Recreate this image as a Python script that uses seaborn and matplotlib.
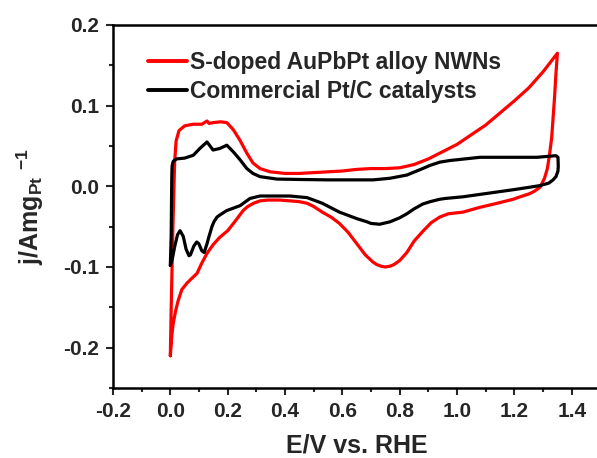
import numpy as np
import pandas as pd
import matplotlib
matplotlib.use("Agg")
import matplotlib.pyplot as plt
from matplotlib.ticker import MultipleLocator, FormatStrFormatter
import seaborn as sns

# ---- data ----
labels = ["S-doped AuPbPt alloy NWNs", "Commercial Pt/C catalysts"]

red_E = [0.000, 0.003, 0.006, 0.009, 0.012, 0.015, 0.020, 0.030, 0.050, 0.080, 0.110, 0.128, 0.135,
         0.150, 0.175, 0.197, 0.220, 0.243, 0.267, 0.288, 0.313, 0.348, 0.400, 0.450, 0.500, 0.550,
         0.600, 0.650, 0.700, 0.750, 0.800, 0.850, 0.900, 0.950, 1.000, 1.050, 1.100, 1.150, 1.200,
         1.250, 1.300, 1.350,
         1.345, 1.340, 1.335, 1.330, 1.322, 1.315, 1.305, 1.290, 1.270, 1.254, 1.220, 1.196, 1.140,
         1.080, 1.020, 0.970, 0.940, 0.910, 0.880, 0.850, 0.825, 0.800, 0.780, 0.766, 0.750, 0.735,
         0.720, 0.707, 0.680, 0.650, 0.620, 0.590, 0.560, 0.530, 0.500, 0.477, 0.450, 0.417, 0.380,
         0.340, 0.313, 0.290, 0.270, 0.254, 0.235, 0.220, 0.200, 0.173, 0.150, 0.128, 0.110, 0.093,
         0.075, 0.058, 0.040, 0.027, 0.018, 0.010, 0.005, 0.000]
red_j = [-0.210, -0.150, -0.100, -0.050, -0.010, 0.030, 0.056, 0.069, 0.075, 0.077, 0.077, 0.081, 0.078,
         0.079, 0.080, 0.079, 0.070, 0.057, 0.041, 0.029, 0.022, 0.018, 0.016, 0.016, 0.017, 0.018,
         0.019, 0.021, 0.022, 0.022, 0.023, 0.027, 0.034, 0.043, 0.052, 0.064, 0.076, 0.091, 0.106,
         0.122, 0.142, 0.165,
         0.140, 0.110, 0.085, 0.060, 0.038, 0.022, 0.010, -0.001, -0.006, -0.009, -0.013, -0.016, -0.021,
         -0.026, -0.032, -0.034, -0.038, -0.045, -0.056, -0.068, -0.082, -0.092, -0.097, -0.099, -0.100, -0.099,
         -0.097, -0.094, -0.085, -0.071, -0.057, -0.046, -0.038, -0.032, -0.025, -0.021, -0.019, -0.018, -0.017,
         -0.017, -0.018, -0.021, -0.025, -0.030, -0.039, -0.046, -0.055, -0.063, -0.072, -0.083, -0.095, -0.108,
         -0.114, -0.120, -0.128, -0.142, -0.155, -0.170, -0.185, -0.210]

black_E = [0.000, 0.003, 0.004, 0.005, 0.006, 0.010, 0.022, 0.050, 0.080, 0.103, 0.128, 0.149, 0.173,
           0.197, 0.219, 0.243, 0.267, 0.288, 0.313, 0.372, 0.450, 0.550, 0.650, 0.707, 0.766, 0.825,
           0.880, 0.906, 0.940, 0.975, 1.080, 1.195, 1.279, 1.345, 1.352, 1.353, 1.352, 1.345,
           1.335, 1.320, 1.290, 1.255, 1.200, 1.140, 1.080, 1.020, 0.960, 0.940, 0.906, 0.880, 0.850,
           0.825, 0.800, 0.766, 0.730, 0.700, 0.686, 0.650, 0.590, 0.530, 0.477, 0.417, 0.350, 0.313,
           0.278, 0.243, 0.220, 0.197, 0.175, 0.163, 0.152, 0.145, 0.135, 0.128, 0.118, 0.110, 0.099,
           0.092, 0.082, 0.070, 0.065, 0.055, 0.045, 0.034, 0.025, 0.015, 0.008, 0.003, 0.000]
black_j = [-0.098, -0.060, -0.020, 0.010, 0.025, 0.031, 0.034, 0.035, 0.0385, 0.047, 0.055, 0.045, 0.047,
           0.051, 0.043, 0.033, 0.022, 0.016, 0.012, 0.009, 0.0085, 0.008, 0.008, 0.008, 0.010, 0.014,
           0.022, 0.026, 0.030, 0.032, 0.036, 0.036, 0.036, 0.038, 0.036, 0.025, 0.019, 0.012,
           0.008, 0.004, 0.001, -0.001, -0.004, -0.007, -0.010, -0.013, -0.015, -0.016, -0.019, -0.022, -0.028,
           -0.034, -0.039, -0.044, -0.047, -0.046, -0.044, -0.040, -0.032, -0.021, -0.014, -0.012, -0.012, -0.012,
           -0.015, -0.024, -0.027, -0.030, -0.035, -0.038, -0.044, -0.050, -0.062, -0.071, -0.082, -0.080, -0.071,
           -0.069, -0.074, -0.085, -0.086, -0.078, -0.062, -0.055, -0.060, -0.075, -0.088, -0.095, -0.098]

x_ticks = [-0.2, 0.0, 0.2, 0.4, 0.6, 0.8, 1.0, 1.2, 1.4]
y_ticks = [-0.2, -0.1, 0.0, 0.1, 0.2]

df = pd.concat([
    pd.DataFrame({"E": red_E, "j": red_j, "sample": labels[0]}),
    pd.DataFrame({"E": black_E, "j": black_j, "sample": labels[1]}),
], ignore_index=True)

# ---- style ----
sns.set_style("ticks")
plt.rcParams["font.family"] = ["Liberation Sans", "DejaVu Sans"]
plt.rcParams["font.weight"] = "bold"
plt.rcParams["axes.unicode_minus"] = False
plt.rcParams["mathtext.fontset"] = "custom"
plt.rcParams["mathtext.rm"] = "Liberation Sans:bold"
plt.rcParams["mathtext.it"] = "Liberation Sans:bold"
plt.rcParams["mathtext.bf"] = "Liberation Sans:bold"
plt.rcParams["mathtext.default"] = "rm"

fig = plt.figure(figsize=(5.97, 4.58), dpi=100)
ax = fig.add_axes([113 / 597, 70 / 458, 487.4 / 597, 363 / 458])

sns.lineplot(data=df, x="E", y="j", hue="sample", sort=False, estimator=None, units="sample",
             palette={labels[0]: "#ff0000", labels[1]: "#000000"}, linewidth=2.3, ax=ax)

ax.set_xlim(-0.2, 1.5)
ax.set_ylim(-0.25, 0.2)
ax.set_xticks(x_ticks)
ax.set_yticks(y_ticks)
ax.xaxis.set_minor_locator(MultipleLocator(0.1))
ax.yaxis.set_minor_locator(MultipleLocator(0.05))
ax.xaxis.set_major_formatter(FormatStrFormatter("%.1f"))
ax.yaxis.set_major_formatter(FormatStrFormatter("%.1f"))
ax.tick_params(which="major", direction="out", length=5, width=1.5, labelsize=15, pad=5)
ax.tick_params(which="minor", direction="out", length=3, width=1.5)
ax.tick_params(top=False, right=False, which="both")
for lab in ax.get_xticklabels() + ax.get_yticklabels():
    lab.set_fontweight("bold")
for s in ax.spines.values():
    s.set_linewidth(1.8)
    s.set_color("black")

ax.set_xlabel("E/V vs. RHE", fontsize=18, fontweight="bold", labelpad=9)
ax.set_ylabel(r"j/Amg$_{\mathrm{Pt}}$ $^{\mathrm{-1}}$", fontsize=18, fontweight="bold", labelpad=12)

leg = ax.legend(loc="upper left", bbox_to_anchor=(0.0718, 0.929), frameon=False,
                prop={"family": "Liberation Sans", "weight": "bold", "size": 16.5},
                handlelength=1.7, handletextpad=0.13, labelspacing=0.28,
                borderaxespad=0, borderpad=0)
for l in leg.get_lines():
    l.set_linewidth(2.8)

fig.savefig("out.png", dpi=100)
